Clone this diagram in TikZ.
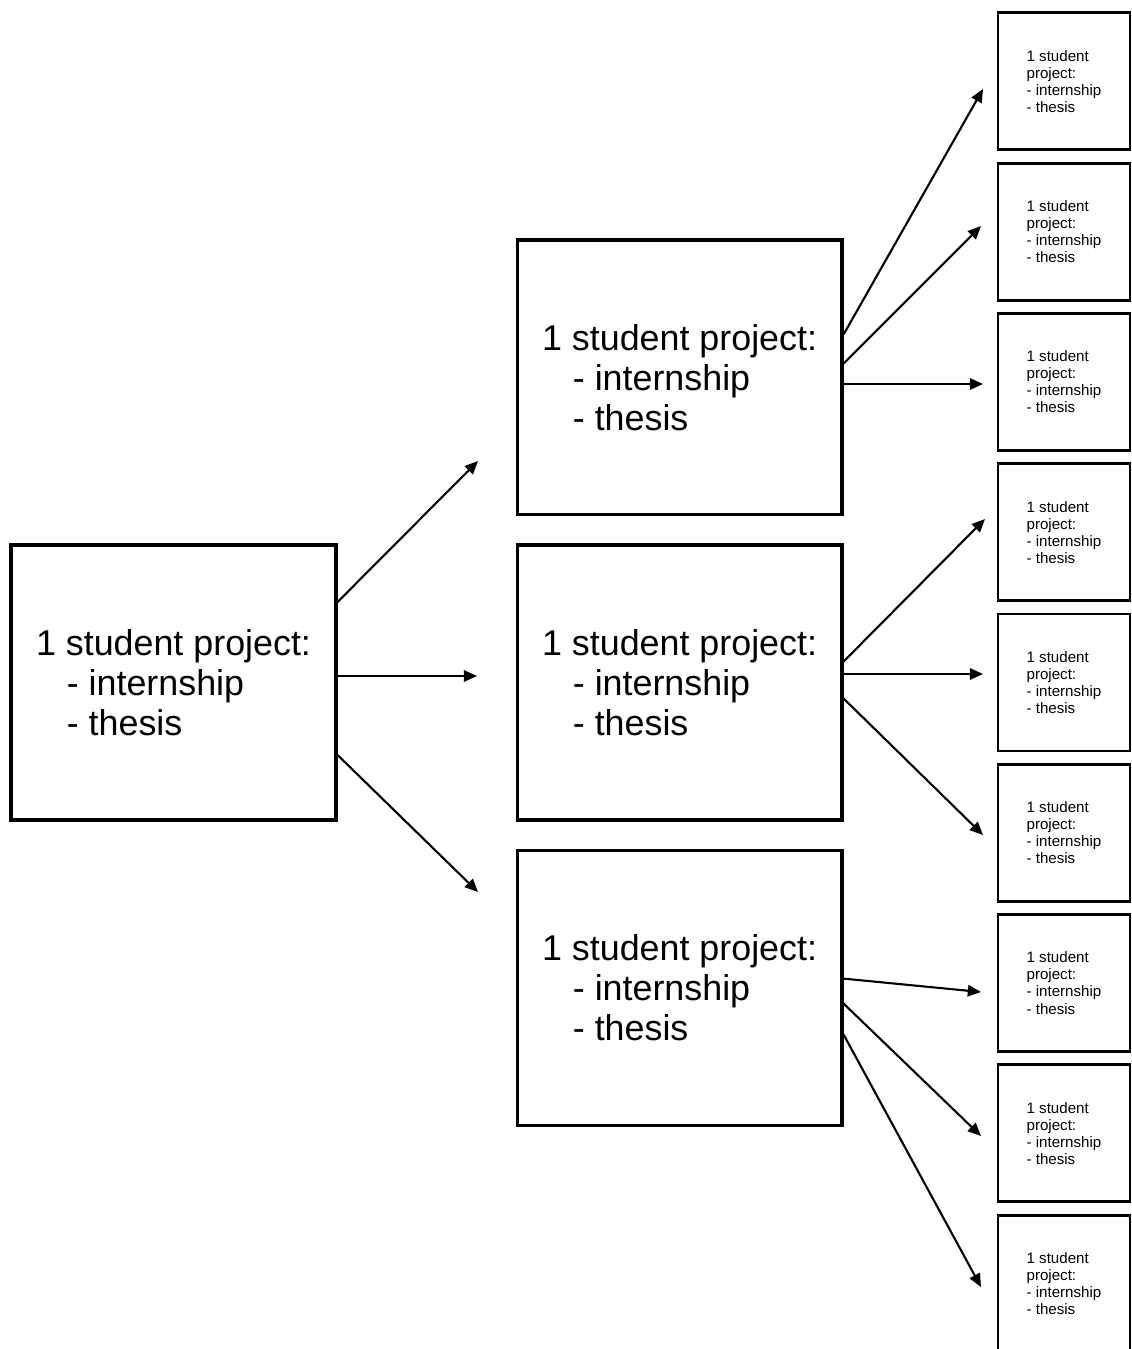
\documentclass[tikz,border=0pt]{standalone}
\usepackage{fontspec}
\setmainfont{Liberation Sans}
\usepackage{tikz}
\usetikzlibrary{positioning,arrows.meta}

\begin{document}
\begin{tikzpicture}[
  x=0.02cm, y=-0.02cm,
  >={Triangle[length=7.5pt,width=6.5pt]},
  bigbox/.style={draw, line width=1.8pt, align=left, minimum width=6.5cm, minimum height=5.5cm, font=\fontsize{20.4}{22.8}\selectfont},
  smallbox/.style={draw, line width=1.6pt, align=left, minimum width=2.64cm, minimum height=2.74cm, font=\fontsize{8.6}{9.7}\selectfont},
  arrow/.style={->, line width=1.2pt}
]
\useasboundingbox (0,0) rectangle (1132,1349);

\node[bigbox] (root) at (173.5,682.5) {1 student project:\\\hspace*{0.86em}- internship\\\hspace*{0.86em}- thesis};
\node[bigbox, right=3.56cm of root] (midb) {1 student project:\\\hspace*{0.86em}- internship\\\hspace*{0.86em}- thesis};
\node[bigbox, above=0.54cm of midb] (mida) {1 student project:\\\hspace*{0.86em}- internship\\\hspace*{0.86em}- thesis};
\node[bigbox, below=0.54cm of midb] (midc) {1 student project:\\\hspace*{0.86em}- internship\\\hspace*{0.86em}- thesis};

\node[smallbox, right=3.06cm of midb] (s5) {1 student\\project:\\- internship\\- thesis};
\node[smallbox, above=0.21cm of s5] (s4) {1 student\\project:\\- internship\\- thesis};
\node[smallbox, above=0.21cm of s4] (s3) {1 student\\project:\\- internship\\- thesis};
\node[smallbox, above=0.21cm of s3] (s2) {1 student\\project:\\- internship\\- thesis};
\node[smallbox, above=0.21cm of s2] (s1) {1 student\\project:\\- internship\\- thesis};
\node[smallbox, below=0.21cm of s5] (s6) {1 student\\project:\\- internship\\- thesis};
\node[smallbox, below=0.21cm of s6] (s7) {1 student\\project:\\- internship\\- thesis};
\node[smallbox, below=0.21cm of s7] (s8) {1 student\\project:\\- internship\\- thesis};
\node[smallbox, below=0.21cm of s8] (s9) {1 student\\project:\\- internship\\- thesis};

% free arrow ends
\coordinate (ta) at (478,461);
\coordinate (tb) at (477,676);
\coordinate (tc) at (478,892);
\coordinate (t1) at (983,89);
\coordinate (t2) at (981,226);
\coordinate (t3) at (983,384);
\coordinate (t4) at (985,519);
\coordinate (t5) at (983,674);
\coordinate (t6) at (983,835);
\coordinate (t7) at (981,992);
\coordinate (t8) at (981,1136);
\coordinate (t9) at (981,1287);

\draw[arrow] ([yshift=1.61cm]root.east) -- (ta);
\draw[arrow] (root.east |- tb) -- (tb);
\draw[arrow] ([yshift=-1.45cm]root.east) -- (tc);

\draw[arrow] ([yshift=0.86cm]mida.east) -- (t1);
\draw[arrow] ([yshift=0.28cm]mida.east) -- (t2);
\draw[arrow] (mida.east |- t3) -- (t3);

\draw[arrow] ([yshift=0.42cm]midb.east) -- (t4);
\draw[arrow] (midb.east |- t5) -- (t5);
\draw[arrow] ([yshift=-0.32cm]midb.east) -- (t6);

\draw[arrow] ([yshift=0.18cm]midc.east) -- (t7);
\draw[arrow] ([yshift=-0.32cm]midc.east) -- (t8);
\draw[arrow] ([yshift=-0.94cm]midc.east) -- (t9);
\end{tikzpicture}
\end{document}
